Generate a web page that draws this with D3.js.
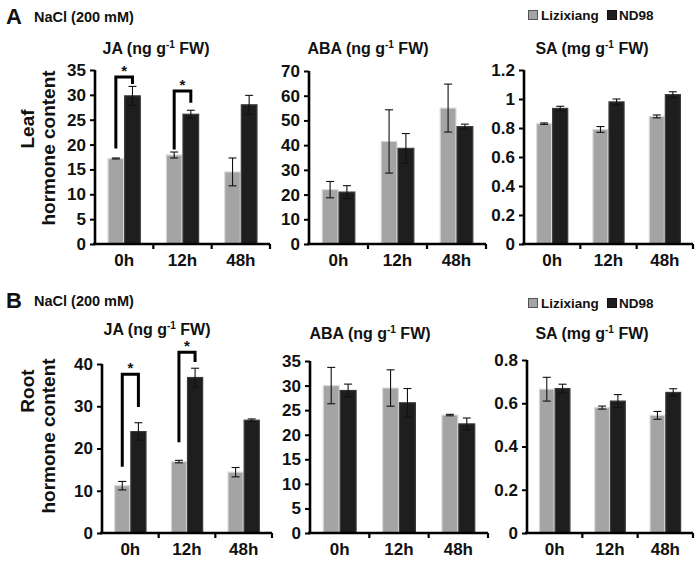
<!DOCTYPE html>
<html><head><meta charset="utf-8">
<script src="https://cdn.jsdelivr.net/npm/d3@7"></script>
<style>
html,body{margin:0;padding:0;background:#fff;}
svg{display:block;font-family:"Liberation Sans",Arial,sans-serif;font-weight:bold;}
</style></head>
<body>
<svg id="chart" width="700" height="563"></svg>
<script>
// ---------- data ----------
const categories = ["0h", "12h", "48h"];
const seriesNames = ["Lizixiang", "ND98"];

const leafJA_Liz = [17.2, 17.9, 14.5], leafJA_LizErr = [0.1, 0.6, 2.8];
const leafJA_ND = [29.8, 26.1, 28.0], leafJA_NDErr = [1.9, 0.8, 1.9];
const leafABA_Liz = [22.0, 41.5, 55.0], leafABA_LizErr = [3.3, 12.8, 9.7];
const leafABA_ND = [21.0, 38.7, 47.5], leafABA_NDErr = [2.6, 6.0, 1.0];
const leafSA_Liz = [0.83, 0.79, 0.88], leafSA_LizErr = [0.005, 0.02, 0.01];
const leafSA_ND = [0.935, 0.98, 1.03], leafSA_NDErr = [0.015, 0.02, 0.02];

const rootJA_Liz = [11.2, 16.9, 14.4], rootJA_LizErr = [1.0, 0.3, 1.1];
const rootJA_ND = [24.0, 36.8, 26.7], rootJA_NDErr = [2.1, 2.2, 0.3];
const rootABA_Liz = [30.0, 29.5, 24.0], rootABA_LizErr = [3.7, 3.7, 0.15];
const rootABA_ND = [29.0, 26.5, 22.2], rootABA_NDErr = [1.3, 2.9, 1.2];
const rootSA_Liz = [0.665, 0.58, 0.544], rootSA_LizErr = [0.055, 0.007, 0.018];
const rootSA_ND = [0.668, 0.61, 0.65], rootSA_NDErr = [0.02, 0.03, 0.017];

const ticksLeafJA = [0, 5, 10, 15, 20, 25, 30, 35];
const ticksLeafABA = [0, 10, 20, 30, 40, 50, 60, 70];
const ticksLeafSA = [0, 0.2, 0.4, 0.6, 0.8, 1, 1.2];
const ticksRootJA = [0, 10, 20, 30, 40];
const ticksRootABA = [0, 5, 10, 15, 20, 25, 30, 35];
const ticksRootSA = [0, 0.2, 0.4, 0.6, 0.8];

// significance brackets: [category, left-foot value, top value, right-foot value]
const sigLeafJA = [["0h", 19.2, 33.6, 32.2], ["12h", 19.0, 30.8, 28.4]];
const sigRootJA = [["0h", 15.7, 37.6, 29.8], ["12h", 21.5, 42.8, 40.5]];

// ---------- drawing ----------
const svg = d3.select("#chart");
const COL = {Lizixiang: "#a4a4a4", ND98: "#1e1e1e"};
const STROKE = {Lizixiang: "#dadada", ND98: "#3a3a3a"};

function panel(o) {
  const g = svg.append("g");
  const x = d3.scaleBand().domain(categories).range([o.x0, o.x1]);
  const bw = x.bandwidth();
  const xs = d3.scaleBand().domain(seriesNames).range([bw * 0.215, bw * 0.785]);
  const y = d3.scaleLinear().domain([0, o.max]).range([o.yb, o.yt]);

  const rows = [];
  categories.forEach((c, i) => {
    rows.push({c, s: "Lizixiang", v: o.liz[i], e: o.lizErr[i]});
    rows.push({c, s: "ND98", v: o.nd[i], e: o.ndErr[i]});
  });

  g.selectAll("rect.bar").data(rows).join("rect")
    .attr("class", "bar")
    .attr("x", d => x(d.c) + xs(d.s) + 0.5)
    .attr("width", xs.bandwidth() - 1)
    .attr("y", d => y(d.v))
    .attr("height", d => y(0) - y(d.v))
    .attr("fill", d => COL[d.s])
    .attr("stroke", d => STROKE[d.s])
    .attr("stroke-width", 1.2);

  const eb = g.selectAll("g.err").data(rows).join("g").attr("class", "err");
  const cx = d => x(d.c) + xs(d.s) + xs.bandwidth() / 2;
  eb.append("line").attr("x1", cx).attr("x2", cx)
    .attr("y1", d => y(d.v + d.e)).attr("y2", d => y(d.v - d.e))
    .attr("stroke", "#111").attr("stroke-width", 1.1);
  [1, -1].forEach(sg => {
    eb.append("line").attr("x1", d => cx(d) - 4).attr("x2", d => cx(d) + 4)
      .attr("y1", d => y(d.v + sg * d.e)).attr("y2", d => y(d.v + sg * d.e))
      .attr("stroke", "#111").attr("stroke-width", 1.1);
  });

  const ya = g.append("g").attr("transform", `translate(${o.x0},0)`)
    .call(d3.axisLeft(y).tickValues(o.ticks).tickSize(5).tickPadding(4)
      .tickFormat(d => d3.format("~g")(d)));
  ya.select(".domain").attr("stroke", "#000").attr("stroke-width", 2.6)
    .attr("d", `M0,${o.yb}V${o.yt}`);
  ya.selectAll(".tick line").attr("stroke", "#000").attr("stroke-width", 2);
  ya.selectAll(".tick text").attr("font-size", 17).attr("font-weight", "bold")
    .attr("font-family", "Liberation Sans, Arial, sans-serif").attr("fill", "#111");

  const xa = g.append("g").attr("transform", `translate(0,${o.yb})`)
    .call(d3.axisBottom(x).tickSize(0).tickPadding(10));
  xa.select(".domain").attr("stroke", "#000").attr("stroke-width", 2.6)
    .attr("d", `M${o.x0 - 2},0H${o.x1}`);
  xa.selectAll(".tick text").attr("font-size", 17).attr("font-weight", "bold")
    .attr("font-family", "Liberation Sans, Arial, sans-serif").attr("fill", "#111");
  const bounds = categories.map(c => x(c) + bw);
  g.selectAll("line.xt").data(bounds).join("line").attr("class", "xt")
    .attr("x1", d => d).attr("x2", d => d)
    .attr("y1", o.yb).attr("y2", o.yb + 5)
    .attr("stroke", "#000").attr("stroke-width", 2.2);

  const t = g.append("text").attr("x", o.tx).attr("y", o.ty)
    .attr("text-anchor", "middle").attr("font-size", 16).attr("fill", "#111");
  t.append("tspan").text(o.title + " (" + o.unit + " g");
  t.append("tspan").text("-1").attr("font-size", 10).attr("dy", -6);
  t.append("tspan").text(" FW)").attr("dy", 6);

  if (o.sig) {
    o.sig.forEach(([c, lb, top, rb]) => {
      const xl = x(c) + xs("Lizixiang") + xs.bandwidth() / 2;
      const xr = x(c) + xs("ND98") + xs.bandwidth() / 2;
      g.append("path")
        .attr("d", `M${xl},${y(lb)}V${y(top)}H${xr}V${y(rb)}`)
        .attr("fill", "none").attr("stroke", "#000").attr("stroke-width", 3);
      g.append("text").attr("x", (xl + xr) / 2).attr("y", y(top) - 1)
        .attr("text-anchor", "middle").attr("font-size", 15).attr("fill", "#111").text("*");
    });
  }
}

function header(letter, yBase, legendY, yl1, yl1c, yl2c) {
  svg.append("text").attr("x", 6).attr("y", yBase + 2).attr("font-size", 22).attr("fill", "#111").text(letter);
  svg.append("text").attr("x", 34).attr("y", yBase).attr("font-size", 14.5).attr("fill", "#111").text("NaCl (200 mM)");
  const lg = svg.append("g").attr("transform", `translate(528,${legendY})`);
  lg.append("rect").attr("x", 0.5).attr("y", -9.5).attr("width", 9).attr("height", 9)
    .attr("fill", COL.Lizixiang).attr("stroke", "#555").attr("stroke-width", 1);
  lg.append("text").attr("x", 13).attr("y", 0).attr("font-size", 13.5).attr("fill", "#111").text(seriesNames[0]);
  lg.append("rect").attr("x", 79.5).attr("y", -9.5).attr("width", 9).attr("height", 9)
    .attr("fill", COL.ND98).attr("stroke", "#111").attr("stroke-width", 1);
  lg.append("text").attr("x", 91).attr("y", 0).attr("font-size", 13.5).attr("fill", "#111").text(seriesNames[1]);
  svg.append("text").attr("transform", `translate(34,${yl1c}) rotate(-90)`)
    .attr("text-anchor", "middle").attr("font-size", 19).attr("fill", "#111").text(yl1);
  svg.append("text").attr("transform", `translate(55,${yl2c}) rotate(-90)`)
    .attr("text-anchor", "middle").attr("font-size", 19).attr("fill", "#111").text("hormone content");
}

header("A", 22, 20, "Leaf", 129, 148);
header("B", 306, 308, "Root", 391, 436);

panel({x0: 95, x1: 270, yb: 244, yt: 70, max: 35, ticks: ticksLeafJA, liz: leafJA_Liz, lizErr: leafJA_LizErr,
  nd: leafJA_ND, ndErr: leafJA_NDErr, title: "JA", unit: "ng", tx: 156, ty: 54, sig: sigLeafJA});
panel({x0: 309, x1: 486, yb: 244, yt: 71, max: 70, ticks: ticksLeafABA, liz: leafABA_Liz, lizErr: leafABA_LizErr,
  nd: leafABA_ND, ndErr: leafABA_NDErr, title: "ABA", unit: "ng", tx: 368, ty: 54});
panel({x0: 524, x1: 693, yb: 244, yt: 70, max: 1.2, ticks: ticksLeafSA, liz: leafSA_Liz, lizErr: leafSA_LizErr,
  nd: leafSA_ND, ndErr: leafSA_NDErr, title: "SA", unit: "mg", tx: 592, ty: 54});

panel({x0: 102, x1: 272, yb: 533, yt: 364, max: 40, ticks: ticksRootJA, liz: rootJA_Liz, lizErr: rootJA_LizErr,
  nd: rootJA_ND, ndErr: rootJA_NDErr, title: "JA", unit: "ng", tx: 157, ty: 335, sig: sigRootJA});
panel({x0: 310, x1: 488, yb: 533, yt: 361, max: 35, ticks: ticksRootABA, liz: rootABA_Liz, lizErr: rootABA_LizErr,
  nd: rootABA_ND, ndErr: rootABA_NDErr, title: "ABA", unit: "ng", tx: 370, ty: 339});
panel({x0: 527, x1: 693, yb: 533, yt: 360, max: 0.8, ticks: ticksRootSA, liz: rootSA_Liz, lizErr: rootSA_LizErr,
  nd: rootSA_ND, ndErr: rootSA_NDErr, title: "SA", unit: "mg", tx: 592, ty: 339});
</script>
</body></html>
